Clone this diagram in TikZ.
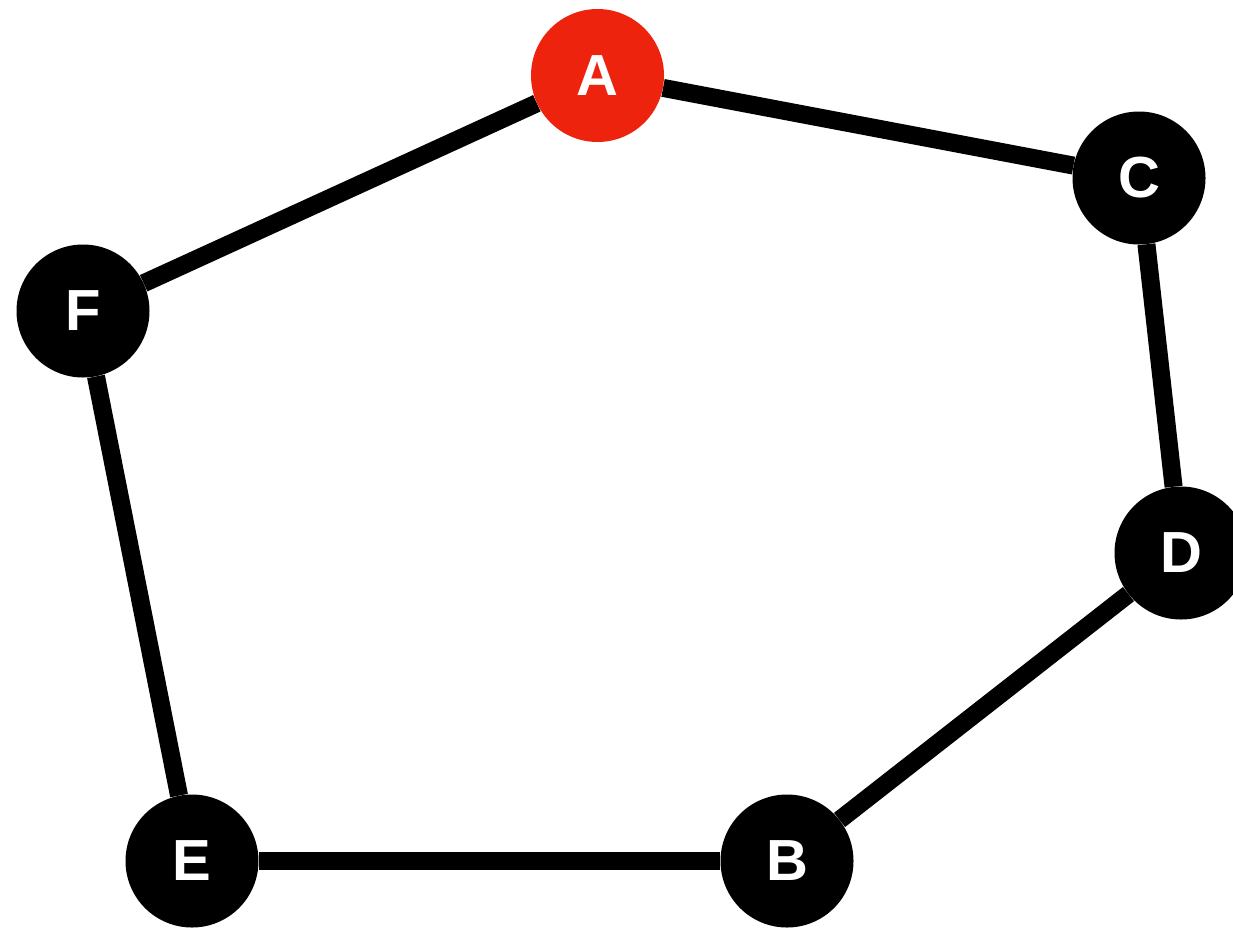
\documentclass[tikz,border=0pt]{standalone}
\usepackage{fontspec}
\setmainfont{Liberation Sans}
\usetikzlibrary{backgrounds}
\definecolor{nodered}{RGB}{237,35,14}
\tikzset{
  vertex/.style={circle, fill=black, minimum size=133pt, inner sep=0pt, text=white, font=\bfseries\fontsize{58}{58}\selectfont},
  hot/.style={vertex, fill=nodered},
  edge/.style={line width=18pt, black, line cap=butt}
}
\begin{document}
\begin{tikzpicture}[x=1pt, y=-1pt]
\useasboundingbox (0,0) rectangle (1233,927);
\node[hot] (A) at (597.5,75.5) {A};
\node[vertex] (C) at (1139,178) {C};
\node[vertex] (F) at (83,311) {F};
\node[vertex] (D) at (1181,553) {D};
\node[vertex] (E) at (192,861) {E};
\node[vertex] (B) at (787,861) {B};
\begin{scope}[on background layer]
\draw[edge] (A) -- (C);
\draw[edge] (A) -- (F);
\draw[edge] (C) -- (D);
\draw[edge] (D) -- (B);
\draw[edge] (B) -- (E);
\draw[edge] (E) -- (F);
\end{scope}
\end{tikzpicture}
\end{document}
